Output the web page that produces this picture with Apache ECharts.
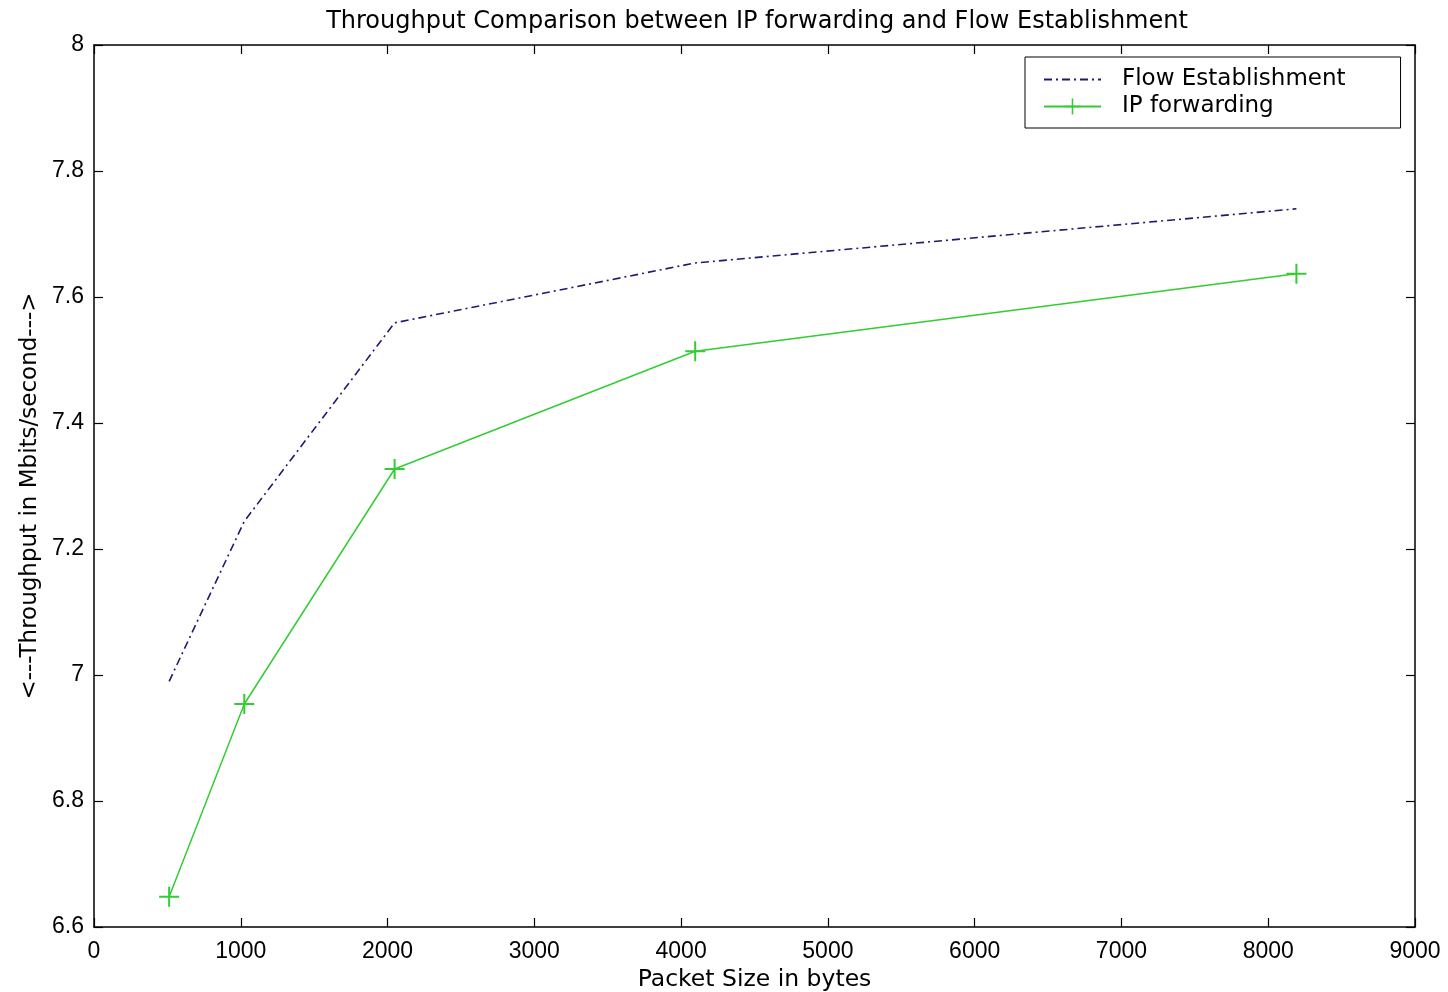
<!DOCTYPE html>
<html>
<head>
<meta charset="utf-8">
<script src="https://cdn.jsdelivr.net/npm/echarts@6/dist/echarts.min.js"></script>
<style>html,body{margin:0;padding:0;background:#fff}#c{width:1448px;height:992px}</style>
</head>
<body>
<div id="c"></div>
<script>
const packetSizes = [512, 1024, 2048, 4096, 8192];
const flowEstablishment = [6.990, 7.244, 7.559, 7.654, 7.740];
const ipForwarding = [6.648, 6.954, 7.327, 7.514, 7.637];
const xTicks = [0, 1000, 2000, 3000, 4000, 5000, 6000, 7000, 8000, 9000];
const yTicks = [6.6, 6.8, 7, 7.2, 7.4, 7.6, 7.8, 8];

const FONT = 'Liberation Sans';
const WIDE = 'DejaVu Sans';
const chart = echarts.init(document.getElementById('c'), null, {renderer: 'canvas'});
const plus = 'path://M9,0h2v9h9v2h-9v9h-2v-9h-9v-2h9z';
const axisLine = {show: true, onZero: false, lineStyle: {color: '#000', width: 1.5}};
const axisTick = {show: true, inside: true, length: 9, lineStyle: {color: '#000', width: 1.2}};

chart.setOption({
  animation: false,
  backgroundColor: '#fff',
  title: {
    text: 'Throughput Comparison between IP forwarding and Flow Establishment',
    left: 752, top: 5, textAlign: 'center',
    textStyle: {fontFamily: WIDE, fontSize: 24, fontWeight: 'normal', color: '#000'}
  },
  legend: {
    left: 1025, top: 57, orient: 'vertical',
    borderColor: '#000', borderWidth: 1, borderRadius: 0,
    padding: [11, 55, 10, 18], itemWidth: 57, itemHeight: 20, itemGap: 4,
    textStyle: {fontFamily: WIDE, fontSize: 23, color: '#000', padding: [0, 0, 0, 16]},
    data: [
      {name: 'Flow Establishment', itemStyle: {opacity: 0}},
      {name: 'IP forwarding'}
    ]
  },
  grid: {left: 94, right: 33, top: 45, bottom: 65, containLabel: false, outerBoundsMode: 'none'},
  xAxis: [{
    type: 'value', min: 0, max: 9000, interval: 1000, position: 'bottom',
    name: 'Packet Size in bytes', nameLocation: 'middle', nameGap: 39,
    nameTextStyle: {fontFamily: WIDE, fontSize: 23.5, color: '#000'},
    axisLine, axisTick, splitLine: {show: false},
    axisLabel: {fontFamily: FONT, fontSize: 23, color: '#000', margin: 13,
      formatter: v => xTicks.includes(v) ? String(v) : ''}
  }, {
    type: 'value', min: 0, max: 9000, interval: 1000, position: 'top',
    axisLine, axisTick, splitLine: {show: false}, axisLabel: {show: false}
  }],
  yAxis: [{
    type: 'value', min: 6.6, max: 8, interval: 0.2, position: 'left',
    name: '<---Throughput in Mbits/second--->', nameLocation: 'middle', nameGap: 52,
    nameTextStyle: {fontFamily: WIDE, fontSize: 23, color: '#000', padding: [0, 20, 0, 0]},
    axisLine, axisTick, splitLine: {show: false},
    axisLabel: {fontFamily: FONT, fontSize: 23, color: '#000', margin: 10,
      formatter: v => { const t = yTicks.find(k => Math.abs(k - v) < 1e-6); return t === undefined ? '' : String(t); }}
  }, {
    type: 'value', min: 6.6, max: 8, interval: 0.2, position: 'right',
    axisLine, axisTick, splitLine: {show: false}, axisLabel: {show: false}
  }],
  series: [{
    name: 'Flow Establishment', type: 'line',
    data: packetSizes.map((x, i) => [x, flowEstablishment[i]]),
    symbol: 'none', color: '#1c1c6e',
    lineStyle: {color: '#1c1c6e', width: 1.6, type: [8, 4, 2, 4]}
  }, {
    name: 'IP forwarding', type: 'line',
    data: packetSizes.map((x, i) => [x, ipForwarding[i]]),
    symbol: plus, symbolSize: 20, showSymbol: true, color: '#33cc33',
    itemStyle: {color: '#33cc33'},
    lineStyle: {color: '#33cc33', width: 1.5}
  }]
});
</script>
</body>
</html>
